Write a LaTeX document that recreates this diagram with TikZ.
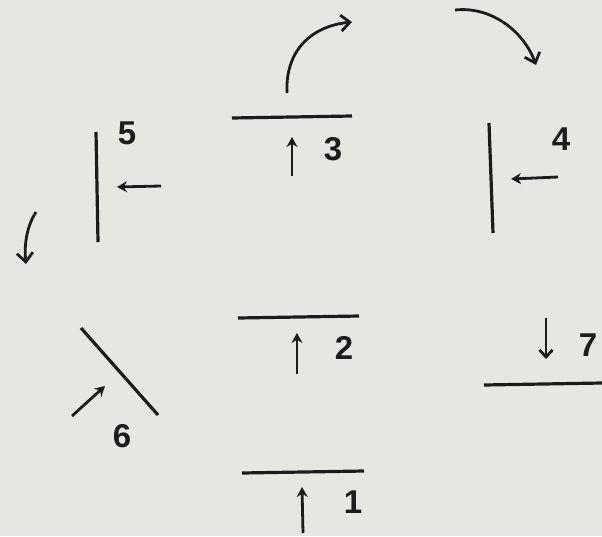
\documentclass[tikz,border=0pt]{standalone}
\usepackage{fontspec}
\setmainfont{Liberation Sans}
\usetikzlibrary{arrows.meta}
\definecolor{paper}{RGB}{230,230,227}
\definecolor{ink}{RGB}{28,28,28}
\begin{document}
\begin{tikzpicture}[x=1pt,y=-1pt,
  bar/.style={draw=ink,line width=3.2pt},
  small/.style={draw=ink,line width=2.8pt,-{Stealth[length=10pt,width=11pt]}},
  openarr/.style={draw=ink,line width=2.8pt,-{Straight Barb[length=7pt,width=13pt]}},
  curly/.style={draw=ink,line width=2.8pt,-{Straight Barb[length=9pt,width=16pt]}},
  lbl/.style={text=ink,font=\bfseries\fontsize{33}{33}\selectfont,inner sep=0pt}]
\fill[paper] (0,0) rectangle (602,536);
\useasboundingbox (0,0) rectangle (602,536);
% bars
\draw[bar] (232,118) -- (352,116);
\draw[bar] (238,318) -- (359,316);
\draw[bar] (242,473) -- (364,471);
\draw[bar] (489,123) -- (493,233);
\draw[bar] (96,132) -- (98,242);
\draw[bar] (81,328) -- (158,415);
\draw[bar] (484,385) -- (602,383);
% labels
\node[lbl] (l1) at (353,502) {1};
\node[lbl] (l2) at (344,348) {2};
\node[lbl] (l3) at (333,149) {3};
\node[lbl] (l4) at (561,139) {4};
\node[lbl] (l5) at (127,133) {5};
\node[lbl] (l6) at (122,436) {6};
\node[lbl] (l7) at (588,345) {7};
% small arrows
\coordinate (a1s) at (303,533); \coordinate (a1e) at (302,487);
\coordinate (a2s) at (297,374); \coordinate (a2e) at (297,333);
\coordinate (a3s) at (292,176); \coordinate (a3e) at (292,137);
\coordinate (a4s) at (558,177); \coordinate (a4e) at (511,179);
\coordinate (a5s) at (161,186); \coordinate (a5e) at (117,187);
\coordinate (a6s) at (72,416); \coordinate (a6e) at (105,386);
\coordinate (a7s) at (546,318); \coordinate (a7e) at (546,359);
\draw[small] (a1s) -- (a1e);
\draw[small] (a2s) -- (a2e);
\draw[small] (a3s) -- (a3e);
\draw[small] (a4s) -- (a4e);
\draw[small] (a5s) -- (a5e);
\draw[small] (a6s) -- (a6e);
\draw[openarr] (a7s) -- (a7e);
% curved arrows
\coordinate (c1s) at (287,93); \coordinate (c1e) at (352,22);
\coordinate (c2s) at (455,10); \coordinate (c2e) at (536,65);
\coordinate (c3s) at (36,212); \coordinate (c3e) at (26,264);
\draw[curly] (c1s) .. controls (285,50) and (312,26) .. (c1e);
\draw[curly] (c2s) .. controls (492,6) and (524,32) .. (c2e);
\draw[curly] (c3s) .. controls (27,226) and (24,244) .. (c3e);
\end{tikzpicture}
\end{document}
